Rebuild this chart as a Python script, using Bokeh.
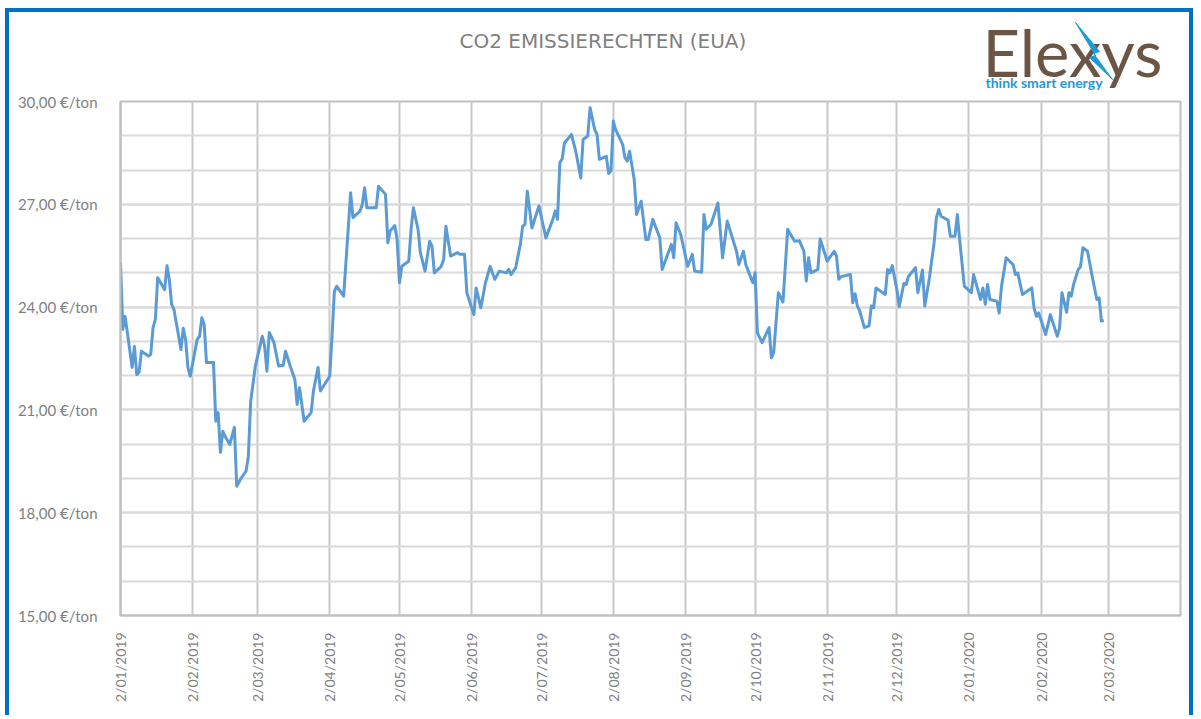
import pandas as pd
from bokeh.plotting import figure
from bokeh.layouts import column
from bokeh.models import FixedTicker, Range1d
from bokeh.core.properties import value
from bokeh.embed import file_html
from bokeh.resources import INLINE

# ---------------- data ----------------
dates = [
    "2019-01-02", "2019-01-03", "2019-01-04", "2019-01-07", "2019-01-08", "2019-01-09", "2019-01-10",
    "2019-01-11", "2019-01-14", "2019-01-15", "2019-01-16", "2019-01-17", "2019-01-18", "2019-01-21",
    "2019-01-22", "2019-01-23", "2019-01-24", "2019-01-25", "2019-01-28", "2019-01-29", "2019-01-30",
    "2019-01-31", "2019-02-01", "2019-02-04", "2019-02-05", "2019-02-06", "2019-02-07", "2019-02-08",
    "2019-02-11", "2019-02-12", "2019-02-13", "2019-02-14", "2019-02-15", "2019-02-16", "2019-02-18",
    "2019-02-20", "2019-02-21", "2019-02-23", "2019-02-25", "2019-02-26", "2019-02-27", "2019-03-01",
    "2019-03-04", "2019-03-05", "2019-03-06", "2019-03-07", "2019-03-09", "2019-03-11", "2019-03-13",
    "2019-03-14", "2019-03-16", "2019-03-18", "2019-03-19", "2019-03-20", "2019-03-21", "2019-03-22",
    "2019-03-25", "2019-03-26", "2019-03-28", "2019-03-29", "2019-04-02", "2019-04-03", "2019-04-04",
    "2019-04-05", "2019-04-08", "2019-04-11", "2019-04-12", "2019-04-15", "2019-04-16", "2019-04-17",
    "2019-04-18", "2019-04-22", "2019-04-23", "2019-04-26", "2019-04-27", "2019-04-28", "2019-04-30",
    "2019-05-01", "2019-05-02", "2019-05-03", "2019-05-06", "2019-05-07", "2019-05-08", "2019-05-10",
    "2019-05-11", "2019-05-13", "2019-05-15", "2019-05-16", "2019-05-17", "2019-05-20", "2019-05-21",
    "2019-05-22", "2019-05-24", "2019-05-27", "2019-05-28", "2019-05-30", "2019-05-31", "2019-06-03",
    "2019-06-04", "2019-06-06", "2019-06-08", "2019-06-10", "2019-06-12", "2019-06-14", "2019-06-17",
    "2019-06-18", "2019-06-19", "2019-06-21", "2019-06-23", "2019-06-24", "2019-06-25", "2019-06-26",
    "2019-06-28", "2019-07-01", "2019-07-04", "2019-07-07", "2019-07-08", "2019-07-09", "2019-07-10",
    "2019-07-11", "2019-07-12", "2019-07-15", "2019-07-17", "2019-07-19", "2019-07-20", "2019-07-22",
    "2019-07-23", "2019-07-25", "2019-07-26", "2019-07-27", "2019-07-30", "2019-07-31", "2019-08-01",
    "2019-08-02", "2019-08-03", "2019-08-06", "2019-08-07", "2019-08-08", "2019-08-09", "2019-08-11",
    "2019-08-12", "2019-08-14", "2019-08-16", "2019-08-17", "2019-08-19", "2019-08-22", "2019-08-23",
    "2019-08-27", "2019-08-28", "2019-08-29", "2019-08-31", "2019-09-03", "2019-09-05", "2019-09-06",
    "2019-09-09", "2019-09-10", "2019-09-11", "2019-09-13", "2019-09-16", "2019-09-18", "2019-09-20",
    "2019-09-24", "2019-09-25", "2019-09-27", "2019-09-28", "2019-10-01", "2019-10-02", "2019-10-03",
    "2019-10-05", "2019-10-08", "2019-10-09", "2019-10-10", "2019-10-12", "2019-10-14", "2019-10-16",
    "2019-10-19", "2019-10-21", "2019-10-23", "2019-10-24", "2019-10-25", "2019-10-26", "2019-10-29",
    "2019-10-30", "2019-11-02", "2019-11-05", "2019-11-06", "2019-11-07", "2019-11-08", "2019-11-12",
    "2019-11-13", "2019-11-14", "2019-11-15", "2019-11-16", "2019-11-18", "2019-11-20", "2019-11-21",
    "2019-11-22", "2019-11-23", "2019-11-27", "2019-11-28", "2019-11-29", "2019-11-30", "2019-12-02",
    "2019-12-03", "2019-12-05", "2019-12-06", "2019-12-07", "2019-12-10", "2019-12-11", "2019-12-13",
    "2019-12-14", "2019-12-16", "2019-12-18", "2019-12-19", "2019-12-20", "2019-12-21", "2019-12-24",
    "2019-12-25", "2019-12-27", "2019-12-28", "2019-12-29", "2019-12-31", "2020-01-03", "2020-01-04",
    "2020-01-07", "2020-01-08", "2020-01-09", "2020-01-10", "2020-01-11", "2020-01-14", "2020-01-15",
    "2020-01-16", "2020-01-18", "2020-01-21", "2020-01-22", "2020-01-23", "2020-01-25", "2020-01-29",
    "2020-01-30", "2020-01-31", "2020-02-01", "2020-02-04", "2020-02-06", "2020-02-09", "2020-02-10",
    "2020-02-11", "2020-02-13", "2020-02-14", "2020-02-15", "2020-02-16", "2020-02-18", "2020-02-19",
    "2020-02-20", "2020-02-22", "2020-02-24", "2020-02-26", "2020-02-27", "2020-02-28", "2020-02-29",
]
prices = [
    25.30, 23.35, 23.73, 22.24, 22.85, 22.03, 22.10,
    22.71, 22.57, 22.62, 23.40, 23.64, 24.86, 24.51,
    25.21, 24.80, 24.08, 23.93, 22.76, 23.38, 23.06,
    22.24, 21.98, 23.06, 23.15, 23.69, 23.49, 22.38,
    22.38, 20.67, 20.92, 19.76, 20.38, 20.23, 19.99,
    20.49, 18.77, 19.02, 19.21, 19.65, 21.25, 22.28,
    23.15, 22.86, 22.13, 23.26, 22.97, 22.28, 22.30,
    22.71, 22.28, 21.89, 21.16, 21.65, 21.16, 20.67,
    20.92, 21.55, 22.24, 21.55, 21.98, 23.15, 24.46,
    24.61, 24.32, 27.34, 26.61, 26.80, 26.99, 27.48,
    26.90, 26.90, 27.53, 27.29, 25.88, 26.22, 26.38,
    25.97, 24.71, 25.19, 25.34, 26.27, 26.90, 26.27,
    25.59, 25.05, 25.92, 25.78, 25.00, 25.19, 25.39,
    26.36, 25.49, 25.59, 25.54, 25.54, 24.42, 23.78,
    24.56, 23.98, 24.71, 25.19, 24.81, 25.05, 25.00,
    25.10, 24.95, 25.15, 25.83, 26.36, 26.41, 27.38,
    26.31, 26.95, 26.02, 26.56, 26.80, 26.56, 28.21,
    28.33, 28.79, 29.04, 28.50, 27.77, 28.89, 28.99,
    29.82, 29.18, 29.04, 28.31, 28.40, 27.90, 27.97,
    29.43, 29.18, 28.75, 28.36, 28.26, 28.55, 27.72,
    26.70, 27.09, 25.97, 25.97, 26.56, 26.02, 25.10,
    25.83, 25.44, 26.46, 26.12, 25.19, 25.54, 25.05,
    25.02, 26.70, 26.27, 26.41, 27.04, 25.44, 26.51,
    25.63, 25.24, 25.63, 25.24, 24.71, 25.00, 23.25,
    22.96, 23.40, 22.52, 22.67, 24.42, 24.15, 26.27,
    25.92, 25.94, 25.63, 24.76, 25.44, 25.00, 25.10,
    25.99, 25.34, 25.63, 25.49, 24.81, 24.89, 24.95,
    24.13, 24.39, 24.03, 23.88, 23.40, 23.45, 24.03,
    23.98, 24.56, 24.37, 25.10, 25.00, 25.21, 24.51,
    24.01, 24.69, 24.66, 24.90, 25.15, 24.42, 25.08,
    24.03, 24.86, 25.88, 26.61, 26.85, 26.65, 26.54,
    26.07, 26.07, 26.70, 25.97, 24.61, 24.42, 24.95,
    24.22, 24.56, 24.08, 24.66, 24.22, 24.17, 23.83,
    24.61, 25.44, 25.24, 24.95, 25.00, 24.37, 24.56,
    23.98, 23.73, 23.83, 23.20, 23.78, 23.15, 23.40,
    24.42, 23.85, 24.42, 24.32, 24.66, 25.10, 25.18,
    25.73, 25.63, 24.90, 24.22, 24.27, 23.59, 23.61,
]
x_tick_dates = [
    "2019-01-02", "2019-02-02", "2019-03-02", "2019-04-02", "2019-05-02", "2019-06-02",
    "2019-07-02", "2019-08-02", "2019-09-02", "2019-10-02", "2019-11-02", "2019-12-02",
    "2020-01-02", "2020-02-02", "2020-03-02",
]
x_tick_labels = [
    "2/01/2019", "2/02/2019", "2/03/2019", "2/04/2019", "2/05/2019", "2/06/2019",
    "2/07/2019", "2/08/2019", "2/09/2019", "2/10/2019", "2/11/2019", "2/12/2019",
    "2/01/2020", "2/02/2020", "2/03/2020",
]
y_ticks = [15, 18, 21, 24, 27, 30]
y_tick_labels = ["15,00 €/ton", "18,00 €/ton", "21,00 €/ton", "24,00 €/ton", "27,00 €/ton", "30,00 €/ton"]
y_minor = list(range(15, 31))
title_text = "CO2 EMISSIERECHTEN (EUA)"
x_start, x_end = "2019-01-02", "2020-04-02"

# ---------------- layout constants (page pixels) ----------------
OX, OY = 9, 12          # content origin inside the blue border
W = 1188
HEAD_H = 83             # header band (title + logo)
MAIN_H = 719 - OY - HEAD_H
TXT = "#7F7F7F"
FONT = "Lato"
BLUE_BORDER = "4px solid #0070C0"
FRAME_L, FRAME_R, FRAME_T, FRAME_B = 120, 1180, 105, 619

# The column layout aligns the header's frame with the chart frame (FRAME_L..FRAME_R),
# so header x data is mapped back from page pixels with this helper.
def hx(page_x):
    return OX + (page_x - FRAME_L) * W / (FRAME_R - FRAME_L)

# ---------------- header (title + logo) ----------------
head = figure(width=W, height=HEAD_H, x_range=Range1d(OX, OX + W), y_range=Range1d(OY + HEAD_H, OY),
              output_backend="svg", toolbar_location=None, x_axis_location=None, y_axis_location=None,
              min_border=0, min_border_left=0, min_border_right=0, min_border_top=0, min_border_bottom=0)
head.outline_line_color = None
head.grid.visible = False
head.background_fill_color = "white"
head.border_fill_color = "white"
head.styles = {"margin-left": "5px", "margin-top": "8px", "border-top": BLUE_BORDER,
               "border-left": BLUE_BORDER, "border-right": BLUE_BORDER}

head.text(x=[hx(459)], y=[40], text=[title_text], text_align="left", text_baseline="alphabetic",
          text_font=value("DejaVu Sans"), text_font_size="20px", text_color=TXT)
head.text(x=[hx(982)], y=[51], text=["Elexys"], text_align="left", text_baseline="alphabetic",
          text_font=value(FONT), text_font_size="65px", text_color="#6B5646")
head.text(x=[hx(985)], y=[81.5], text=["think smart energy"], text_align="left", text_baseline="alphabetic",
          text_font=value(FONT), text_font_style="bold", text_font_size="14px", text_color="#1E9AD6")
bolt_px = [1075, 1099, 1093, 1112, 1089, 1095]
bolt_py = [22, 51, 53, 79, 57, 55]
head.patch([hx(v) for v in bolt_px], bolt_py, fill_color="#1E9AD6", line_color="#1E9AD6", line_width=1)

# ---------------- main chart ----------------
top0 = OY + HEAD_H
x = pd.to_datetime(dates)
ms = lambda s: pd.Timestamp(s).value / 1e6
tick_ms = [ms(d) for d in x_tick_dates]

p = figure(width=W, height=MAIN_H, x_axis_type="datetime",
           x_range=(pd.Timestamp(x_start), pd.Timestamp(x_end)), y_range=(15, 30),
           output_backend="svg", toolbar_location=None,
           min_border_left=FRAME_L - OX, min_border_right=OX + W - FRAME_R,
           min_border_top=FRAME_T - top0, min_border_bottom=top0 + MAIN_H - FRAME_B)
p.styles = {"margin-left": "5px", "border-left": BLUE_BORDER, "border-right": BLUE_BORDER}
p.background_fill_color = "white"
p.border_fill_color = "white"
p.outline_line_color = "#BFBFBF"
p.outline_line_width = 2

p.line(x, prices, line_color="#5B9BD5", line_width=3, line_join="round")

# x axis
p.xaxis.ticker = FixedTicker(ticks=tick_ms, minor_ticks=[])
p.xaxis.major_label_overrides = {t: l for t, l in zip(tick_ms, x_tick_labels)}
p.xaxis.major_label_orientation = 3.14159265 / 2
p.xaxis.major_tick_line_color = None
p.xaxis.minor_tick_line_color = None
p.xaxis.axis_line_color = "#BFBFBF"
p.xaxis.axis_line_width = 2
p.xaxis.major_label_standoff = 11
p.xaxis.major_label_text_font = FONT
p.xaxis.major_label_text_font_size = "14px"
p.xaxis.major_label_text_color = TXT

# y axis
p.yaxis.ticker = FixedTicker(ticks=y_ticks, minor_ticks=y_minor)
p.yaxis.major_label_overrides = {t: l for t, l in zip(y_ticks, y_tick_labels)}
p.yaxis.major_tick_line_color = None
p.yaxis.minor_tick_line_color = None
p.yaxis.axis_line_color = "#BFBFBF"
p.yaxis.axis_line_width = 2
p.yaxis.major_label_standoff = 17
p.yaxis.major_label_text_font = FONT
p.yaxis.major_label_text_font_size = "15px"
p.yaxis.major_label_text_color = TXT

# grids
p.xgrid.ticker = FixedTicker(ticks=tick_ms, minor_ticks=[])
p.xgrid.grid_line_color = "#C8C8C8"
p.xgrid.grid_line_width = 2
p.ygrid.ticker = FixedTicker(ticks=y_ticks, minor_ticks=y_minor)
p.ygrid.grid_line_color = "#DADADA"
p.ygrid.grid_line_width = 2
p.ygrid.minor_grid_line_color = "#DADADA"
p.ygrid.minor_grid_line_width = 2

layout = column(head, p, spacing=0)
open("out.html", "w").write(file_html(layout, INLINE))
